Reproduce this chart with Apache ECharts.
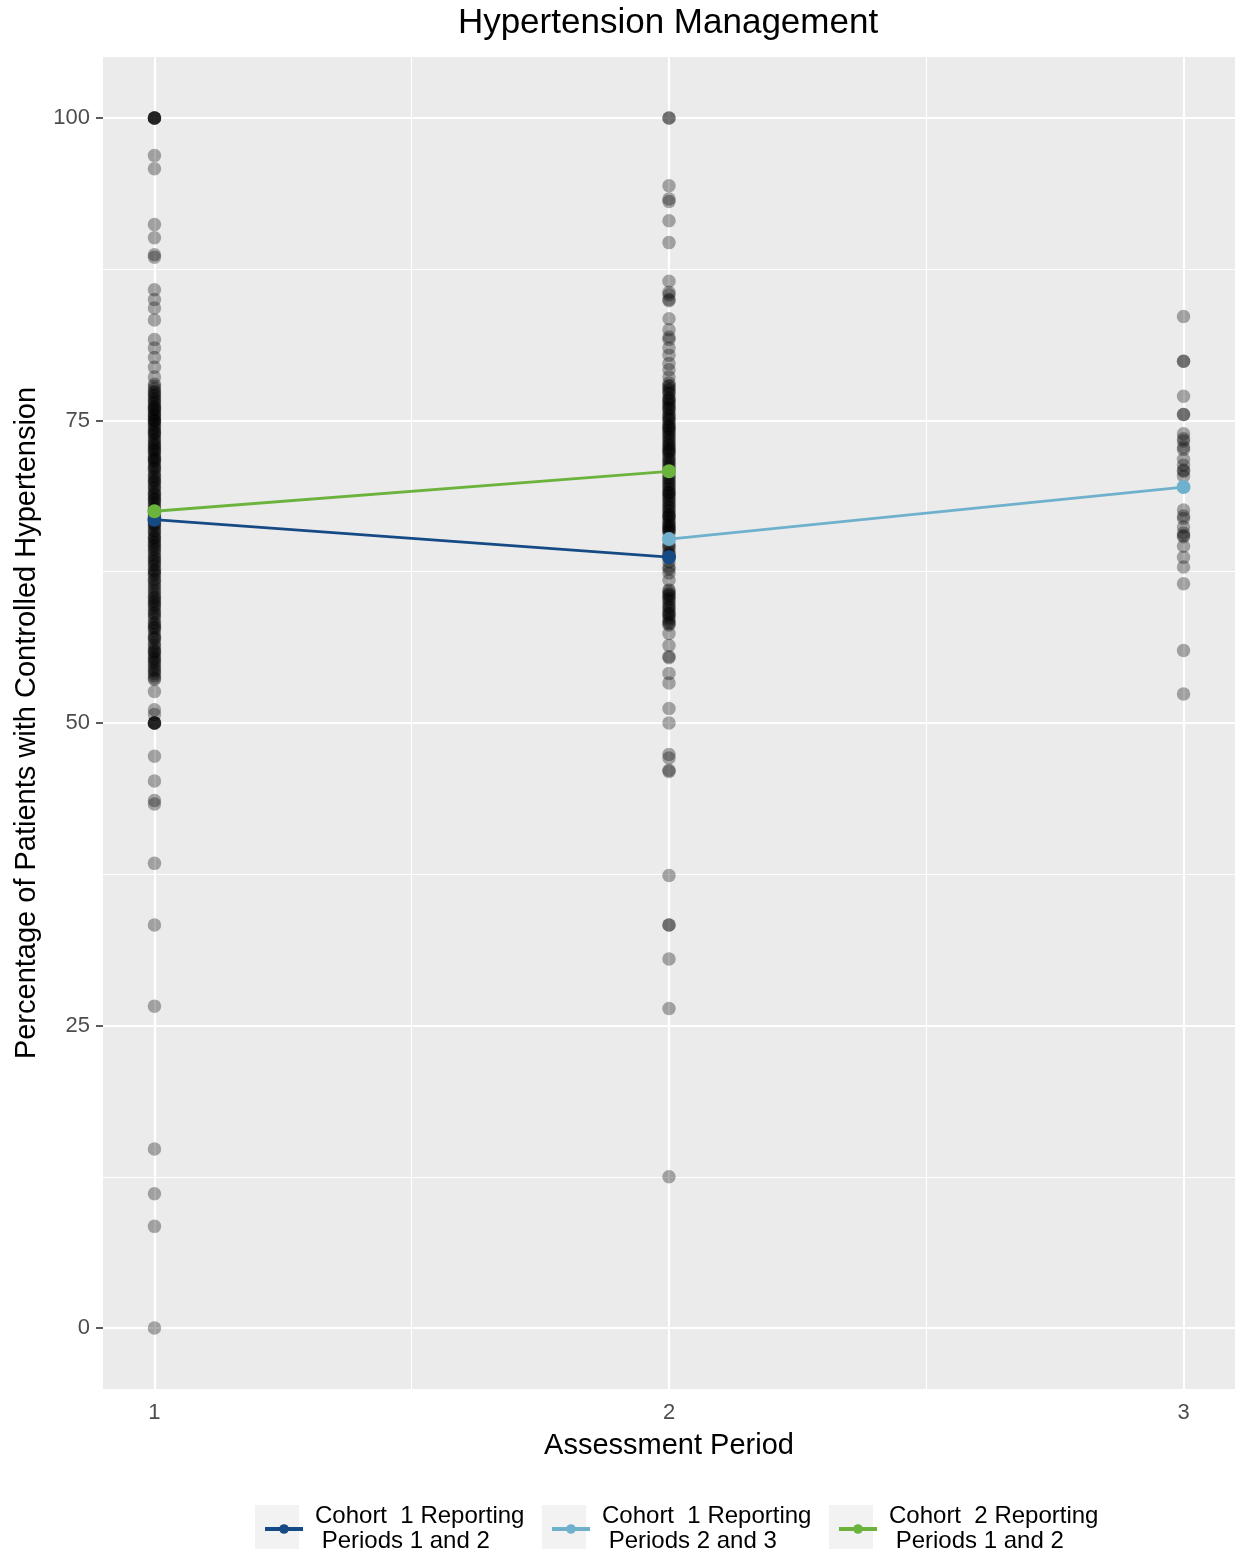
<!DOCTYPE html>
<html>
<head>
<meta charset="utf-8">
<script src="https://cdn.jsdelivr.net/npm/echarts@6/dist/echarts.min.js"></script>
<style>
  html, body { margin: 0; padding: 0; background: #ffffff; }
  #chart { width: 1238px; height: 1557px; }
</style>
</head>
<body>
<div id="chart"></div>
<script>
// Per-practice percentages of patients with controlled hypertension, by assessment period
const period1Values = [
  100, 100, 100, 100, 100, 96.9, 95.8, 91.2, 90.1, 88.7, 88.5, 85.8, 85.0, 84.3, 83.3, 81.7, 81.0, 80.2, 79.4, 78.6,
  78.0, 77.6, 77.3, 77.0, 76.7, 76.5, 76.2, 76.0, 75.8, 75.5, 75.3, 75.0, 75.0, 74.7, 74.4, 74.1, 73.9,
  73.6, 73.3, 73.0, 72.7, 72.4, 72.2, 71.9, 71.7, 71.4, 71.1, 70.6, 70.3, 70.0, 69.7, 69.4, 69.2, 68.9,
  68.6, 68.4, 68.1, 67.9, 67.6, 67.2, 66.9, 66.7, 66.4, 66.1, 65.8, 65.6, 65.3, 65.0, 64.7, 64.4, 64.1,
  63.9, 63.6, 63.3, 63.0, 62.7, 62.5, 62.2, 61.8, 61.4, 61.0, 60.6, 60.3, 60.0, 59.7, 59.3, 59.0, 58.6,
  58.3, 58.0, 57.6, 57.3, 56.9, 56.6, 56.2, 55.9, 55.6, 55.3, 55.0, 54.6, 54.3, 53.9, 53.6,
  77.8, 77.1, 76.4, 75.9, 75.6, 75.1, 74.9, 74.3, 73.8, 73.1, 72.9, 72.5, 72.0, 71.6, 71.2, 70.8, 70.1,
  69.5, 68.8, 68.2, 67.7, 67.0, 66.5, 65.9, 65.4, 64.9, 64.3, 63.7, 63.1, 62.6, 61.9, 61.2, 60.8, 60.1,
  59.5, 58.8, 58.2, 57.8, 57.1, 56.4, 55.8, 55.1, 54.8, 54.1, 53.7,
  77.4, 76.8, 76.1, 75.4, 74.6, 74.0, 73.4, 72.6, 71.8, 71.0, 70.4, 69.9, 69.0, 68.5, 67.4, 66.3, 65.2,
  64.6, 63.4, 62.3, 61.6, 60.4, 59.8, 59.1, 57.9, 57.0, 56.0, 55.4, 54.4,
  52.6, 51.1, 50.7, 50, 50, 50, 50, 50, 47.25, 45.2, 43.6, 43.3, 38.4, 33.3, 26.6, 14.8, 11.1, 8.4, 0
];
const period2Values = [
  100, 100, 94.4, 93.3, 93.1, 91.5, 89.7, 86.5, 85.6, 85.4, 85.0, 84.9, 83.4, 82.5, 81.9, 81.7, 81.0,
  80.4, 79.7, 79.2, 78.6,
  78.1, 77.8, 77.5, 77.2, 76.9, 76.6, 76.3, 76.0, 75.7, 75.4, 75.1, 74.8, 74.5, 74.2, 73.9, 73.6, 73.3,
  73.0, 72.7, 72.4, 72.1, 71.8, 71.5, 71.2, 70.5, 70.2, 69.9, 69.6, 69.3, 69.0, 68.7, 68.4, 68.1, 67.8,
  67.5, 67.2, 66.9, 66.6, 66.3, 66.0, 65.7, 64.8, 64.5, 64.2, 63.3, 62.9, 62.4, 61.8, 60.9, 60.5, 60.0,
  59.6, 59.3, 58.9, 58.5, 58.1,
  77.9, 77.3, 76.7, 76.1, 75.5, 75.0, 74.6, 74.0, 73.4, 72.9, 72.3, 71.6, 71.0, 70.0, 69.4, 68.8, 68.2,
  67.6, 67.0, 66.4, 65.9, 64.0, 62.7, 60.7, 60.2, 59.0, 58.3,
  76.4, 74.3, 72.6, 70.8, 69.1, 67.3, 66.1, 60.6, 59.5,
  77.6, 76.8, 75.9, 75.2, 74.4, 73.7, 73.1, 72.5, 71.9, 71.3, 70.3, 69.7, 69.0, 68.5, 67.9, 67.1, 66.7,
  66.2, 65.8, 64.6, 63.9, 61.0, 60.3, 59.8, 59.1, 58.7, 58.2,
  57.4, 56.4, 55.5, 55.4, 54.1, 53.3, 51.2, 50.0, 47.4, 47.1, 46.1, 46.0, 37.4, 33.3, 33.3, 30.5, 26.4, 12.5
];
const period3Values = [
  83.6, 79.9, 79.9, 77.0, 75.5, 75.5, 73.9, 73.5, 73.3, 72.8, 72.6, 71.8, 71.3, 70.9, 70.8, 70.4,
  67.6, 67.1, 66.9, 66.2, 65.7, 65.5, 65.4, 64.6, 63.7, 62.9, 61.5, 56.0, 52.4
];

// Cohort means: [period, percentage]
const cohort1Periods12 = [[1, 66.8], [2, 63.7]];
const cohort1Periods23 = [[2, 65.2], [3, 69.5]];
const cohort2Periods12 = [[1, 67.5], [2, 70.8]];

const seriesNames = [
  'Cohort  1 Reporting Periods 1 and 2',
  'Cohort  1 Reporting Periods 2 and 3',
  'Cohort  2 Reporting Periods 1 and 2'
];
const seriesColors = ['#164a84', '#6fb1cc', '#6cb33e'];

// Axis ticks and gridlines
const xTicks = [1, 2, 3];
const xMinorGrid = [1.5, 2.5];
const yTicks = [0, 25, 50, 75, 100];
const yMinorGrid = [12.5, 37.5, 62.5, 87.5];

const FONT = '"Liberation Sans", Arial, Helvetica, sans-serif';

const scatterData = []
  .concat(period1Values.map(v => [1, v]))
  .concat(period2Values.map(v => [2, v]))
  .concat(period3Values.map(v => [3, v]));

const gridLines = []
  .concat(yTicks.map(v => ({ yAxis: v, lineStyle: { width: 2.2 } })))
  .concat(yMinorGrid.map(v => ({ yAxis: v, lineStyle: { width: 1.1 } })))
  .concat(xTicks.map(v => ({ xAxis: v, lineStyle: { width: 2.2 } })))
  .concat(xMinorGrid.map(v => ({ xAxis: v, lineStyle: { width: 1.1 } })));

const chart = echarts.init(document.getElementById('chart'), null, { renderer: 'canvas' });

const legendLefts = [258, 545, 832];
const keyLefts = [255, 542, 829];

const option = {
  backgroundColor: '#ffffff',
  animation: false,
  textStyle: { fontFamily: FONT },
  grid: {
    left: 103, right: 3, top: 57, bottom: 168,
    show: true, backgroundColor: '#ebebeb', borderWidth: 0
  },
  xAxis: {
    type: 'value',
    min: 0.9, max: 3.1,
    name: 'Assessment Period',
    nameLocation: 'middle',
    nameGap: 42,
    nameTextStyle: { fontSize: 29, color: '#000', fontFamily: FONT },
    axisLine: { show: false },
    axisTick: { show: true, customValues: xTicks, length: 7, lineStyle: { color: '#333', width: 1.6 } },
    axisLabel: { customValues: xTicks, fontSize: 22, color: '#4d4d4d', margin: 13, fontFamily: FONT },
    splitLine: { show: false }
  },
  yAxis: {
    type: 'value',
    min: -5.04, max: 105.04,
    name: 'Percentage of Patients with Controlled Hypertension',
    nameLocation: 'middle',
    nameGap: 62,
    nameTextStyle: { fontSize: 29, color: '#000', fontFamily: FONT },
    axisLine: { show: false },
    axisTick: { show: true, customValues: yTicks, length: 7, lineStyle: { color: '#333', width: 1.6 } },
    axisLabel: { customValues: yTicks, fontSize: 22, color: '#4d4d4d', margin: 13, fontFamily: FONT },
    splitLine: { show: false }
  },
  legend: seriesNames.map((n, i) => ({
    data: [n],
    left: legendLefts[i],
    top: 1499,
    orient: 'horizontal',
    itemWidth: 38,
    itemHeight: 12,
    z: 10,
    lineStyle: { width: 4 },
    formatter: name => name.replace(' Periods', '\n Periods'),
    textStyle: { fontSize: 24, lineHeight: 25, color: '#000', fontFamily: FONT, padding: [0, 0, 0, 7] }
  })),
  graphic: [
    {
      type: 'text', x: 668, y: 6, z: 5,
      style: { text: 'Hypertension Management', textAlign: 'center', textVerticalAlign: 'top', fill: '#000', font: '35px ' + FONT }
    }
  ].concat(keyLefts.map(x => ({
    type: 'rect', left: x, top: 1505, z: 1,
    shape: { width: 44, height: 44 },
    style: { fill: '#f2f2f2' }
  }))),
  series: [
    {
      type: 'scatter',
      name: 'grid',
      data: [],
      z: 1,
      silent: true,
      markLine: {
        silent: true,
        symbol: 'none',
        z: 1,
        animation: false,
        label: { show: false },
        lineStyle: { color: '#ffffff', type: 'solid' },
        data: gridLines
      }
    },
    {
      type: 'scatter',
      name: 'practices',
      data: scatterData,
      symbol: 'circle',
      symbolSize: 13.5,
      z: 3,
      itemStyle: { color: 'rgba(0,0,0,0.4)', borderWidth: 0 }
    },
    {
      type: 'line', name: seriesNames[0], data: cohort1Periods12, z: 4,
      symbol: 'circle', symbolSize: 14,
      lineStyle: { color: seriesColors[0], width: 2.8 },
      itemStyle: { color: seriesColors[0] }
    },
    {
      type: 'line', name: seriesNames[1], data: cohort1Periods23, z: 4,
      symbol: 'circle', symbolSize: 14,
      lineStyle: { color: seriesColors[1], width: 2.8 },
      itemStyle: { color: seriesColors[1] }
    },
    {
      type: 'line', name: seriesNames[2], data: cohort2Periods12, z: 4,
      symbol: 'circle', symbolSize: 14,
      lineStyle: { color: seriesColors[2], width: 2.8 },
      itemStyle: { color: seriesColors[2] }
    }
  ]
};

chart.setOption(option);
</script>
</body>
</html>
